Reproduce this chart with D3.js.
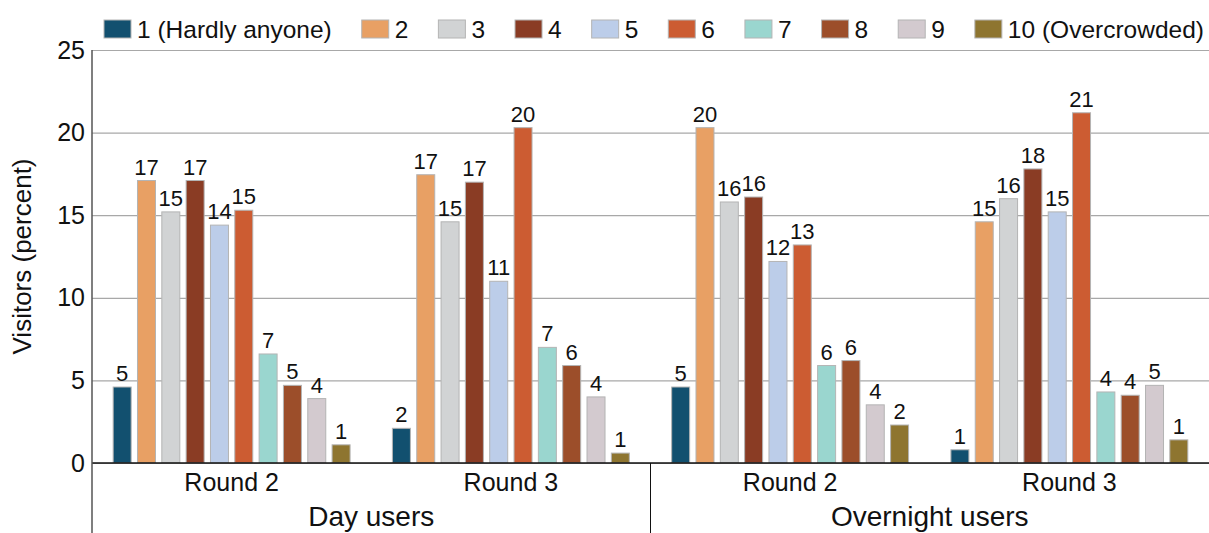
<!DOCTYPE html>
<html>
<head>
<meta charset="utf-8">
<script src="https://cdn.jsdelivr.net/npm/d3@7"></script>
<style>
  body { margin: 0; background: #fff; }
  svg { display: block; font-family: "Liberation Sans", Arial, sans-serif; }
</style>
</head>
<body>
<div id="viz"></div>
<script>
/* Crowding ratings by visitor type and survey round */

var series = ['1 (Hardly anyone)', '2', '3', '4', '5', '6', '7', '8', '9', '10 (Overcrowded)'];
var seriesColors = ['#12506f', '#e8a064', '#d1d3d4', '#8a3c24', '#bccde9',
                    '#cc5c32', '#9ad6cf', '#9c4e2a', '#d3cacf', '#8e7530'];
var userTypes = ['Day users', 'Overnight users'];
var rounds = ['Round 2', 'Round 3'];

// percent of visitors per rating
var dayRound2 = [4.6, 17.1, 15.2, 17.1, 14.4, 15.3, 6.6, 4.7, 3.9, 1.1];
var dayRound3 = [2.1, 17.45, 14.6, 17.0, 11.0, 20.3, 7.0, 5.9, 4.0, 0.6];
var nightRound2 = [4.6, 20.3, 15.8, 16.1, 12.2, 13.2, 5.9, 6.2, 3.52, 2.3];
var nightRound3 = [0.8, 14.6, 16.0, 17.8, 15.2, 21.2, 4.3, 4.1, 4.7, 1.4];

var yTicksVals = [0, 5, 10, 15, 20, 25];

var groups = [
  { user: userTypes[0], round: rounds[0], values: dayRound2 },
  { user: userTypes[0], round: rounds[1], values: dayRound3 },
  { user: userTypes[1], round: rounds[0], values: nightRound2 },
  { user: userTypes[1], round: rounds[1], values: nightRound3 }
];

var W = 1209, H = 533,
    margin = { top: 50, right: 0, bottom: 70, left: 92 },
    width = W - margin.left - margin.right,
    height = H - margin.top - margin.bottom;

var svg = d3.select('#viz').append('svg')
    .attr('width', W)
    .attr('height', H);

var g = svg.append('g')
    .attr('transform', 'translate(' + margin.left + ',' + margin.top + ')');

var x0 = d3.scaleBand()
    .domain(d3.range(groups.length))
    .range([0, width])
    .padding(0);

var x1 = d3.scaleBand()
    .domain(series)
    .range([0, x0.bandwidth()])
    .paddingInner(0.26)
    .paddingOuter(0.87);

var y = d3.scaleLinear()
    .domain([0, 25])
    .range([height, 0]);

var color = d3.scaleOrdinal()
    .domain(series)
    .range(seriesColors);

// gridlines + tick labels
var yAxis = d3.axisLeft(y)
    .tickValues(yTicksVals)
    .tickSize(-width)
    .tickPadding(7);

var yGuide = g.append('g')
    .attr('class', 'y axis')
    .call(yAxis);

yGuide.select('.domain').remove();
yGuide.selectAll('line')
    .attr('stroke', '#a8a8a8')
    .attr('stroke-width', 1.2);
yGuide.selectAll('text')
    .attr('font-size', 25)
    .attr('fill', '#111')
    .attr('font-family', '"Liberation Sans", Arial, sans-serif');

// bars
var grp = g.selectAll('g.group')
    .data(groups)
    .enter().append('g')
    .attr('class', 'group')
    .attr('transform', function(d, i) {
      return 'translate(' + x0(i) + ',0)';
    });

grp.selectAll('rect')
    .data(function(d) {
      return d.values.map(function(v, i) { return { key: series[i], value: v }; });
    })
    .enter().append('rect')
    .attr('x', function(d) { return x1(d.key); })
    .attr('y', function(d) { return y(d.value); })
    .attr('width', x1.bandwidth())
    .attr('height', function(d) { return height - y(d.value); })
    .attr('fill', function(d) { return color(d.key); })
    .attr('stroke', '#b4b4b4')
    .attr('stroke-width', 1);

grp.selectAll('text.val')
    .data(function(d) {
      return d.values.map(function(v, i) { return { key: series[i], value: v }; });
    })
    .enter().append('text')
    .attr('class', 'val')
    .attr('x', function(d) { return x1(d.key) + x1.bandwidth() / 2; })
    .attr('y', function(d) { return y(d.value) - 6; })
    .attr('text-anchor', 'middle')
    .attr('font-size', 22)
    .attr('fill', '#111')
    .text(function(d) { return Math.round(d.value); });

// baseline, left axis and category box
g.append('line')
    .attr('x1', 0).attr('x2', width)
    .attr('y1', height).attr('y2', height)
    .attr('stroke', '#111')
    .attr('stroke-width', 1.3);

g.append('line')
    .attr('x1', 0).attr('x2', 0)
    .attr('y1', 0).attr('y2', H - margin.top)
    .attr('stroke', '#555')
    .attr('stroke-width', 1.5);

g.append('line')
    .attr('x1', x0(2)).attr('x2', x0(2))
    .attr('y1', height).attr('y2', H - margin.top)
    .attr('stroke', '#111')
    .attr('stroke-width', 1);

g.selectAll('text.round')
    .data(groups)
    .enter().append('text')
    .attr('class', 'round')
    .attr('x', function(d, i) { return x0(i) + x0.bandwidth() / 2; })
    .attr('y', height + 28)
    .attr('text-anchor', 'middle')
    .attr('font-size', 25)
    .attr('fill', '#111')
    .text(function(d) { return d.round; });

g.selectAll('text.user')
    .data(userTypes)
    .enter().append('text')
    .attr('class', 'user')
    .attr('x', function(d, i) { return x0(i * 2) + x0.bandwidth(); })
    .attr('y', height + 63)
    .attr('text-anchor', 'middle')
    .attr('font-size', 28)
    .attr('fill', '#111')
    .text(function(d) { return d; });

// y title
svg.append('text')
    .attr('transform', 'translate(31,' + (margin.top + height / 2) + ') rotate(-90)')
    .attr('text-anchor', 'middle')
    .attr('font-size', 26)
    .attr('fill', '#111')
    .text('Visitors (percent)');

// legend, laid out left to right
var legend = svg.append('g')
    .attr('transform', 'translate(104,20)');

var lx = 0;
series.forEach(function(s, i) {
  var item = legend.append('g')
      .attr('transform', 'translate(' + lx + ',0)');
  item.append('rect')
      .attr('width', 27)
      .attr('height', 18)
      .attr('fill', seriesColors[i])
      .attr('stroke', '#b4b4b4');
  var t = item.append('text')
      .attr('x', 33)
      .attr('y', 18)
      .attr('font-size', 24.5)
      .attr('fill', '#111')
      .text(s);
  lx += 33 + t.node().getComputedTextLength() + 30;
});
</script>
</body>
</html>
